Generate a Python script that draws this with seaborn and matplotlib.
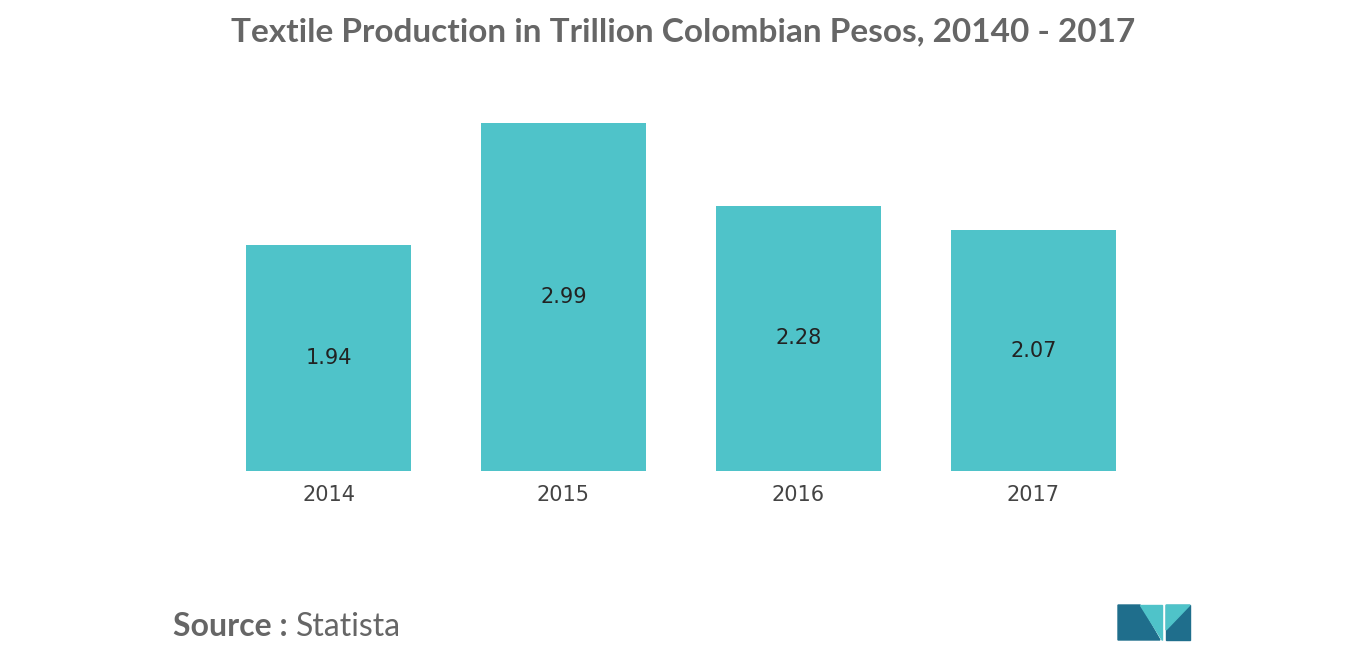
import matplotlib
matplotlib.use("Agg")
import matplotlib.pyplot as plt
import seaborn as sns
import pandas as pd
from matplotlib.patches import Polygon

YEARS = ["2014", "2015", "2016", "2017"]
VALUES = [1.94, 2.99, 2.28, 2.07]
BAR_COLOR = "#4FC3C9"

df = pd.DataFrame({"year": YEARS, "value": VALUES})

fig = plt.figure(figsize=(13.66, 6.55), dpi=100)
ax = fig.add_axes([0.1545, 0.281, 0.688, 0.566])
sns.barplot(df, x="year", y="value", color=BAR_COLOR, saturation=1, width=0.70, ax=ax)
ax.set_xlim(-0.5, 3.5)
ax.set_ylim(0, 3.19)
for i, v in enumerate(VALUES):
    ax.text(i, v / 2, f"{v:.2f}", ha="center", va="center",
            fontsize=15, color="#222222", family="DejaVu Sans Condensed")
ax.set_yticks([])
ax.set_xlabel("")
ax.set_ylabel("")
ax.tick_params(axis="x", length=0, pad=10, labelsize=15, labelcolor="#444444")
for lab in ax.get_xticklabels():
    lab.set_family("DejaVu Sans Condensed")
for s in ax.spines.values():
    s.set_visible(False)

fig.text(0.5, 0.952, "Textile Production in Trillion Colombian Pesos, 20140 - 2017",
         ha="center", va="center", fontsize=24, color="#666666", family="Lato", weight="bold")
fig.text(0.127, 0.043, "Source :", ha="left", va="center", fontsize=23,
         color="#666666", family="Lato", weight="bold")
fig.text(0.217, 0.043, "Statista", ha="left", va="center", fontsize=23,
         color="#666666", family="Lato")

# logo
W, H = 1366, 655
def px(pts):
    return [(x / W, 1 - y / H) for x, y in pts]
fig.patches.append(Polygon(px([(1118, 640), (1118, 605), (1140, 605), (1160, 640)]),
                           closed=True, color="#1F6E8C", transform=fig.transFigure))
fig.patches.append(Polygon(px([(1140, 605), (1162, 605), (1162, 640)]),
                           closed=True, color="#4FC3C9", transform=fig.transFigure))
fig.patches.append(Polygon(px([(1166, 605), (1190, 605), (1190, 640), (1166, 640)]),
                           closed=True, color="#1F6E8C", transform=fig.transFigure))
fig.patches.append(Polygon(px([(1166, 605), (1190, 605), (1166, 630)]),
                           closed=True, color="#4FC3C9", transform=fig.transFigure))

fig.savefig("out.png", dpi=100)
